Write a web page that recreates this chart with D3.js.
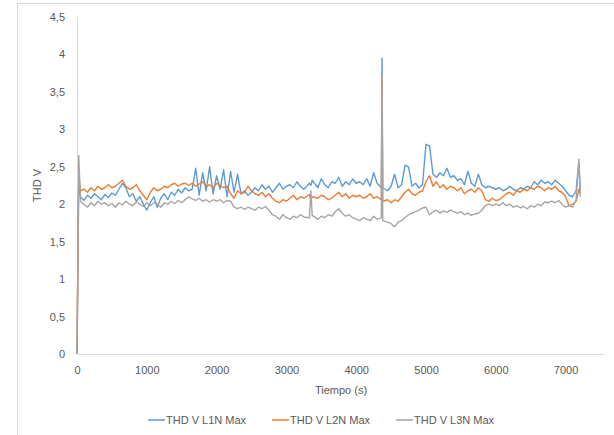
<!DOCTYPE html>
<html>
<head>
<meta charset="utf-8">
<script src="https://cdn.jsdelivr.net/npm/d3@7"></script>
<style>
  body { margin: 0; background: #fff; }
  svg { display: block; font-family: "Liberation Sans", Arial, sans-serif; }
</style>
</head>
<body>
<div id="chart"></div>
<script>
// sample times (s)
const tiempo = [0, 25,
  50, 100, 150, 200, 250, 300, 350, 400, 450, 500,
  550, 600, 650, 700, 750, 800, 850, 900, 950, 1000,
  1050, 1100, 1150, 1200, 1250, 1300, 1350, 1400, 1450, 1500,
  1550, 1600, 1650, 1700, 1750, 1800, 1850, 1900, 1950, 2000,
  2050, 2100, 2150, 2200, 2250, 2300, 2350, 2400, 2450, 2500,
  2550, 2600, 2650, 2700, 2750, 2800, 2850, 2900, 2950, 3000,
  3050, 3100, 3150, 3200, 3250, 3330, 3350, 3370, 3450, 3500,
  3550, 3600, 3650, 3700, 3750, 3800, 3850, 3900, 3950, 4000,
  4050, 4100, 4150, 4200, 4250, 4300, 4360, 4370, 4380, 4450, 4500,
  4550, 4600, 4650, 4700, 4750, 4800, 4850, 4900, 4950, 5000,
  5050, 5100, 5150, 5200, 5250, 5300, 5350, 5400, 5450, 5500,
  5550, 5600, 5650, 5700, 5750, 5800, 5850, 5900, 5950, 6000,
  6050, 6100, 6150, 6200, 6250, 6300, 6350, 6400, 6450, 6500,
  6550, 6600, 6650, 6700, 6750, 6800, 6850, 6900, 6950, 7000,
  7050, 7100, 7150, 7190, 7210];

const l1n = [0, 2.30,
  2.10, 2.05, 2.12, 2.08, 2.14, 2.10, 2.06, 2.13, 2.09, 2.15,
  2.12, 2.20, 2.28, 2.22, 2.10, 2.14, 2.04, 2.10, 2.00, 1.92,
  2.02, 2.10, 1.96, 2.08, 2.14, 2.06, 2.16, 2.12, 2.20, 2.15,
  2.22, 2.18, 2.20, 2.48, 2.12, 2.42, 2.18, 2.50, 2.14, 2.38,
  2.20, 2.46, 2.10, 2.44, 2.16, 2.40, 2.14, 2.18, 2.12, 2.16,
  2.22, 2.18, 2.26, 2.20, 2.24, 2.16, 2.22, 2.28, 2.20, 2.24,
  2.26, 2.22, 2.30, 2.24, 2.20, 2.28, 2.25, 2.32, 2.22, 2.34,
  2.26, 2.22, 2.30, 2.28, 2.36, 2.24, 2.30, 2.26, 2.34, 2.28,
  2.30, 2.26, 2.34, 2.24, 2.42, 2.28, 2.22, 3.95, 2.22, 2.18, 2.24,
  2.40, 2.22, 2.26, 2.52, 2.50, 2.24, 2.28, 2.22, 2.26, 2.80,
  2.78, 2.40, 2.36, 2.42, 2.38, 2.48, 2.36, 2.38, 2.32, 2.34,
  2.26, 2.44, 2.28, 2.24, 2.40, 2.26, 2.22, 2.24, 2.22, 2.20,
  2.22, 2.18, 2.20, 2.24, 2.20, 2.18, 2.22, 2.20, 2.24, 2.22,
  2.30, 2.26, 2.32, 2.28, 2.30, 2.26, 2.32, 2.28, 2.24, 2.18,
  2.12, 2.10, 2.18, 2.57, 2.18];

const l2n = [0, 2.40,
  2.18, 2.20, 2.16, 2.22, 2.18, 2.24, 2.20, 2.22, 2.26, 2.22,
  2.24, 2.28, 2.32, 2.24, 2.20, 2.22, 2.26, 2.18, 2.12, 2.06,
  2.16, 2.22, 2.18, 2.20, 2.24, 2.22, 2.26, 2.28, 2.24, 2.27,
  2.28, 2.25, 2.28, 2.24, 2.27, 2.30, 2.24, 2.26, 2.22, 2.28,
  2.25, 2.22, 2.24, 2.14, 2.08, 2.18, 2.14, 2.16, 2.24, 2.18,
  2.14, 2.12, 2.16, 2.10, 2.14, 2.08, 2.04, 2.02, 2.06, 2.04,
  2.08, 2.12, 2.06, 2.10, 2.08, 2.13, 2.06, 2.10, 2.08, 2.12,
  2.10, 2.06, 2.08, 2.12, 2.16, 2.10, 2.14, 2.08, 2.12, 2.10,
  2.12, 2.08, 2.10, 2.14, 2.08, 2.10, 2.06, 3.70, 2.04, 2.06, 2.02,
  2.06, 2.04, 2.10, 2.16, 2.20, 2.14, 2.12, 2.16, 2.18, 2.30,
  2.38, 2.24, 2.30, 2.22, 2.26, 2.20, 2.24, 2.22, 2.18, 2.22,
  2.14, 2.18, 2.20, 2.16, 2.22, 2.18, 2.06, 2.04, 2.08, 2.05,
  2.06, 2.10, 2.14, 2.16, 2.12, 2.18, 2.16, 2.20, 2.18, 2.22,
  2.20, 2.24, 2.22, 2.18, 2.22, 2.20, 2.24, 2.18, 2.16, 2.10,
  1.98, 2.00, 2.04, 2.20, 2.14];

const l3n = [0, 2.65,
  2.04, 2.00, 1.96, 2.02, 1.98, 2.04, 2.00, 2.02, 1.98, 2.01,
  1.96, 2.02, 1.99, 2.04, 2.00, 1.98, 2.03, 2.00, 1.97, 2.02,
  1.98, 2.02, 2.00, 1.96, 2.02, 2.00, 2.04, 2.01, 2.05, 2.02,
  2.06, 2.10, 2.07, 2.05, 2.08, 2.04, 2.06, 2.03, 2.06, 2.04,
  2.06, 2.02, 2.05, 2.04, 1.96, 1.94, 1.96, 1.93, 1.96, 1.94,
  1.92, 1.96, 1.94, 1.97, 1.92, 1.86, 1.84, 1.80, 1.86, 1.82,
  1.80, 1.84, 1.82, 1.86, 1.83, 1.82, 2.18, 1.85, 1.80, 1.84,
  1.82, 1.86, 1.84, 1.90, 1.94, 1.88, 1.84, 1.86, 1.82, 1.80,
  1.78, 1.82, 1.80, 1.78, 1.84, 1.80, 1.82, 3.70, 1.78, 1.76, 1.74,
  1.70, 1.76, 1.78, 1.82, 1.86, 1.88, 1.90, 1.92, 1.95, 1.96,
  1.86, 1.90, 1.92, 1.88, 1.91, 1.89, 1.92, 1.90, 1.88, 1.90,
  1.86, 1.88, 1.85, 1.87, 1.88, 1.92, 1.98, 2.00, 1.98, 2.00,
  1.98, 2.02, 1.98, 2.00, 1.96, 1.98, 1.95, 1.97, 1.94, 1.98,
  1.96, 2.00, 1.98, 2.03, 2.02, 2.04, 2.02, 2.05, 2.00, 1.96,
  1.98, 1.96, 2.06, 2.60, 2.10];

const series = [
  { name: "THD V L1N Max", values: l1n, color: "#5B9BD5" },
  { name: "THD V L2N Max", values: l2n, color: "#ED7D31" },
  { name: "THD V L3N Max", values: l3n, color: "#A5A5A5" }
];

const xTicks = [0, 1000, 2000, 3000, 4000, 5000, 6000, 7000];
const yTicks = [0, 0.5, 1, 1.5, 2, 2.5, 3, 3.5, 4, 4.5];

const W = 614, H = 435;
const margin = { top: 17, right: 10, bottom: 81, left: 77 };

const svg = d3.select("#chart").append("svg")
  .attr("width", W).attr("height", H);

// chart frame
svg.append("rect")
  .attr("x", 17.5).attr("y", 3.5)
  .attr("width", W).attr("height", H)
  .attr("fill", "none").attr("stroke", "#d9d9d9");

const x = d3.scaleLinear().domain([0, 7550]).range([margin.left, W - margin.right]);
const y = d3.scaleLinear().domain([0, 4.5]).range([H - margin.bottom, margin.top]);

const fmt = d => String(d).replace(".", ",");

const xAxis = svg.append("g")
  .attr("transform", "translate(0," + y(0) + ")")
  .call(d3.axisBottom(x).tickValues(xTicks).tickSize(0).tickPadding(12).tickFormat(d3.format("d")));
xAxis.select(".domain").attr("stroke", "#d9d9d9");

const yAxis = svg.append("g")
  .attr("transform", "translate(" + x(0) + ",0)")
  .call(d3.axisLeft(y).tickValues(yTicks).tickSize(0).tickPadding(12).tickFormat(fmt));
yAxis.select(".domain").attr("stroke", "#d9d9d9");

svg.selectAll(".tick text")
  .attr("fill", "#595959").attr("font-size", 11);

const line = d3.line()
  .x((d, i) => x(tiempo[i]))
  .y(d => y(d));

series.forEach(s => {
  svg.append("path")
    .datum(s.values)
    .attr("fill", "none")
    .attr("stroke", s.color)
    .attr("stroke-width", 1.4)
    .attr("stroke-linejoin", "round")
    .attr("d", line);
});

// axis titles
svg.append("text")
  .attr("x", 341).attr("y", 394)
  .attr("text-anchor", "middle")
  .attr("fill", "#595959").attr("font-size", 11)
  .text("Tiempo (s)");

svg.append("text")
  .attr("transform", "translate(41," + ((y(0) + y(4.5)) / 2) + ") rotate(-90)")
  .attr("text-anchor", "middle")
  .attr("fill", "#595959").attr("font-size", 11)
  .text("THD V");

// legend
const legendX = [148, 272, 396];
const legend = svg.append("g");
series.forEach((s, i) => {
  const g = legend.append("g").attr("transform", "translate(" + legendX[i] + ",420)");
  g.append("line").attr("x1", 0).attr("x2", 17).attr("y1", 0).attr("y2", 0)
    .attr("stroke", s.color).attr("stroke-width", 1.5);
  g.append("text").attr("x", 18).attr("y", 4)
    .attr("fill", "#595959").attr("font-size", 11)
    .text(s.name);
});
</script>
</body>
</html>
